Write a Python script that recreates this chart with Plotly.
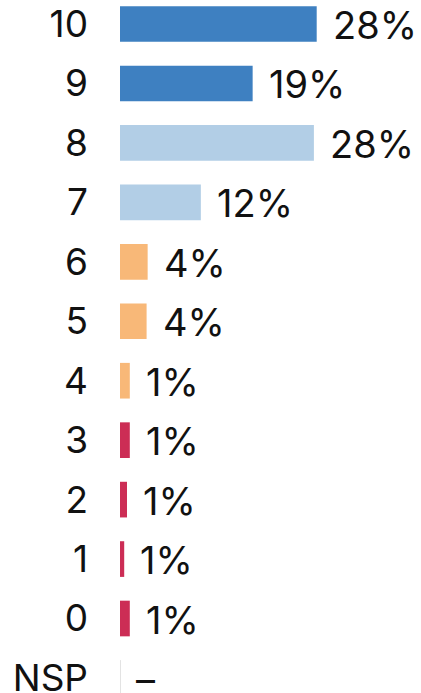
import plotly.graph_objects as go

categories = ["10", "9", "8", "7", "6", "5", "4", "3", "2", "1", "0", "NSP"]
values = [28.1, 18.95, 27.7, 11.55, 3.95, 3.8, 1.4, 1.4, 1.0, 0.6, 1.4, 0.0]
labels = ["28%", "19%", "28%", "12%", "4%", "4%", "1%", "1%", "1%", "1%", "1%", "–"]
colors = ["#3E80C1", "#3E80C1", "#B2CEE6", "#B2CEE6", "#F8B878", "#F8B878",
          "#F8B878", "#CC2D55", "#CC2D55", "#CC2D55", "#CC2D55", "#C8C8C8"]

FONT = "Inter, Roboto, sans-serif"
FS = 38

fig = go.Figure()
fig.add_trace(go.Bar(
    y=categories, x=values, orientation="h",
    marker=dict(color=colors, line=dict(width=0)),
    width=0.6, hoverinfo="skip",
))

for i, (v, lab) in enumerate(zip(values, labels)):
    fig.add_annotation(x=v, y=i, text=lab, showarrow=False,
                       xanchor="left", yanchor="middle", xshift=14, yshift=-1,
                       font=dict(family=FONT, size=FS, color="#111111"))

# thin stub for zero-valued category
for i, v in enumerate(values):
    if v == 0:
        fig.add_shape(type="line", xref="x", yref="y", x0=v, x1=v,
                      y0=i - 0.3, y1=i + 0.3,
                      line=dict(color="#C8C8C8", width=1))

fig.update_layout(
    width=421, height=693,
    margin=dict(l=120, r=0, t=0, b=0, autoexpand=False),
    paper_bgcolor="white", plot_bgcolor="white",
    showlegend=False,
    hovermode=False,
    xaxis=dict(range=[0, 301 / 7.0], visible=False, fixedrange=True,
               automargin=False),
    yaxis=dict(type="category", categoryorder="array", categoryarray=categories,
               range=[11.253, -0.404], showgrid=False, zeroline=False,
               showline=False, ticks="", ticklabelstandoff=31, automargin=False,
               fixedrange=True,
               tickfont=dict(family=FONT, size=37, color="#111111")),
)

fig.write_html("out.html", config={"displayModeBar": False, "staticPlot": True},
               post_script="document.body.style.margin='0';document.body.style.overflow='hidden';")
